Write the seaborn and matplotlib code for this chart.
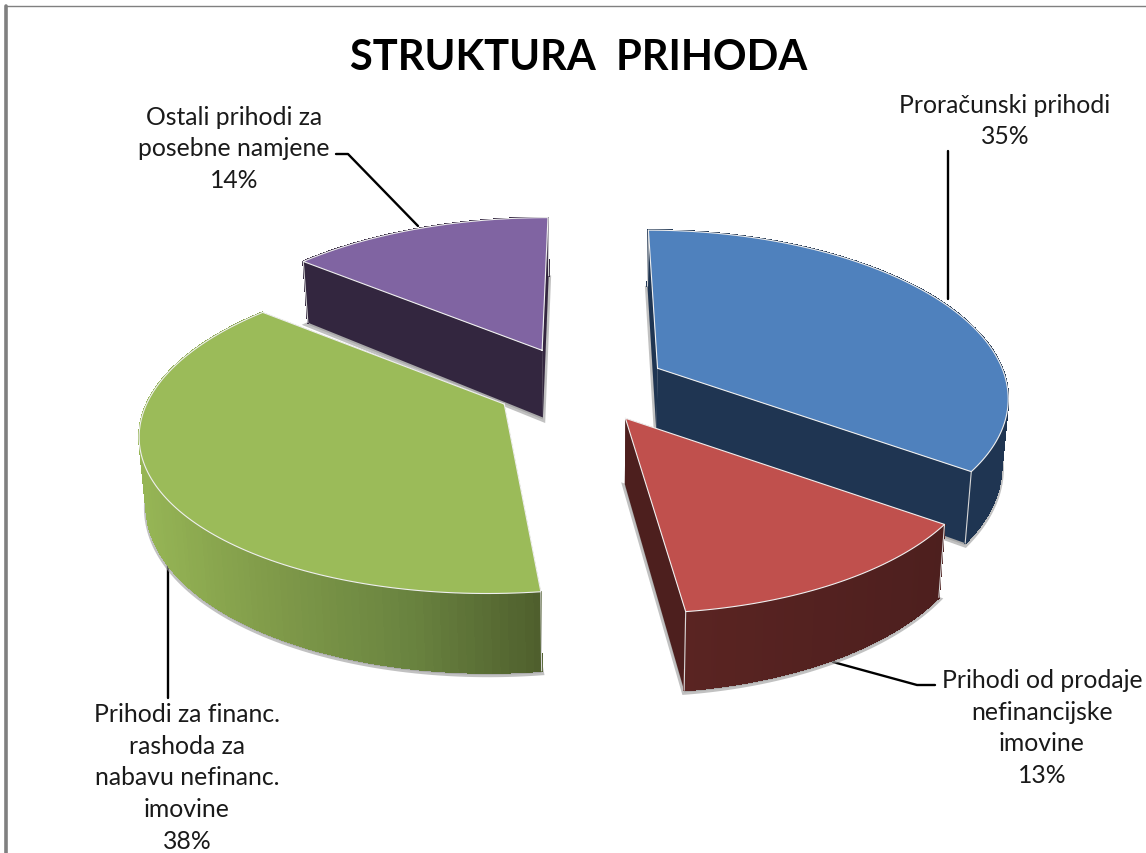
import numpy as np
import matplotlib
matplotlib.use('Agg')
import matplotlib.pyplot as plt
import seaborn as sns

# shares, clockwise from the top
LABELS = ['Proračunski prihodi', 'Prihodi od prodaje\nnefinancijske\nimovine',
          'Prihodi za financ.\nrashoda za\nnabavu nefinanc.\nimovine', 'Ostali prihodi za\nposebne namjene']
VALUES = [35, 13, 38, 14]
EXPLODE = [0.22, 0.22, 0.28, 0.30]
TOP_COLORS = ['#4f81bd', '#c0504d', '#9bbb59', '#8064a2']
WALL_COLORS = [['#1f3552', '#1f3552'], ['#5a2422', '#4d1f1e'],
               ['#96b555', '#7f9a49', '#6a8440', '#4f5f2d'], ['#33263f', '#33263f']]
CUT_COLORS = ['#1f3552', '#4d1f1e', '#4f5f2d', '#33263f']
DRAW_ORDER = [3, 0, 2, 1]
TITLE = 'STRUKTURA  PRIHODA'

# per slice tweaks of the projected block (px shift, scale about the apex, height)
SHIFT = [(0, 0), (-5, 3), (2, -2), (-5, 8)]
SCALE = [(1.0, 1.03), (0.975, 0.96), (1.0, 0.95), (1.03, 1.04)]
DEPTHS = [66, 64, 65, 70]

# label anchor (px), leader line (px)
LABEL_POS = [(1005, 121), (1042, 728), (187, 778), (234, 149)]
LEADERS = [([948, 948], [152, 300]), ([833, 917, 935], [663, 686, 686]),
           ([168, 168], [565, 699]), ([336, 348, 418], [155, 155, 227])]

CX, CY = 590, 385
RX, RY = 350, 160
K = 0.1587
LEAN = 0.016

sns.set_theme(style='white')
plt.rcParams['font.family'] = ['Lato', 'DejaVu Sans']

fig = plt.figure(figsize=(11.46, 8.54), dpi=100)
ax = fig.add_axes([0, 0, 1, 1])
ax.set_xlim(0, 1146)
ax.set_ylim(854, 0)
ax.axis('off')


def project(X, Y):
    w = 1 + K * Y
    return CX + RX * X / w, CY - RY * Y / w, 1 / w


shares = np.array(VALUES) / sum(VALUES)
starts = np.concatenate([[0], np.cumsum(shares)[:-1]]) * 2 * np.pi
ends = starts + shares * 2 * np.pi

for i in DRAW_ORDER:
    mid = (starts[i] + ends[i]) / 2
    ex, ey = EXPLODE[i] * np.sin(mid), EXPLODE[i] * np.cos(mid)
    th = np.linspace(starts[i], ends[i], 120)
    x, y, d = project(ex + np.sin(th), ey + np.cos(th))
    px, py, pd_ = project(ex, ey)
    x = px + (x - px) * SCALE[i][0] + SHIFT[i][0]
    y = py + (y - py) * SCALE[i][1] + SHIFT[i][1]
    px, py = px + SHIFT[i][0], py + SHIFT[i][1]
    d = d * DEPTHS[i]
    pd_ = pd_ * DEPTHS[i]
    top_x, top_y, top_d = np.r_[px, x], np.r_[py, y], np.r_[pd_, d]
    # verticals lean slightly towards the middle of the pie
    low_x = top_x - (top_x - CX) * LEAN
    low_y = top_y + top_d
    wx, wy = low_x[1:], low_y[1:]

    # soft shadow of the underside only
    ax.fill(low_x, low_y + 2, color='0.6', ec='0.6', lw=3.5, alpha=0.6, zorder=1 + i * 0.01)

    z = 2 + DRAW_ORDER.index(i)
    wall = sns.blend_palette(WALL_COLORS[i], 119)
    for j in (1, len(top_x) - 1):
        ax.fill([top_x[0], top_x[j], low_x[j], low_x[0]], [top_y[0], top_y[j], low_y[j], low_y[0]],
                color=CUT_COLORS[i], lw=0, zorder=z)
    lo, hi = x.min(), x.max()
    for j in range(len(x) - 1):
        # wall shade runs left to right across the slice
        c = wall[int((x[j] - lo) / max(hi - lo, 1) * 118)]
        ax.fill([x[j], x[j + 1], wx[j + 1], wx[j]], [y[j], y[j + 1], wy[j + 1], wy[j]],
                fc=c, ec=c, lw=0.8, antialiased=False, zorder=z)
    for j in (1, len(top_x) - 1):
        ax.plot([top_x[j], low_x[j]], [top_y[j], low_y[j]], color='#d8d8d8', lw=0.8, zorder=z + 0.05)
    ax.fill(top_x, top_y, color=TOP_COLORS[i], lw=0, zorder=z + 0.1)
    ax.plot(np.r_[top_x, top_x[0]], np.r_[top_y, top_y[0]], color='#f0f0f0', lw=0.8, zorder=z + 0.2)

# frame of the pasted chart
ax.plot([6, 6], [7, 854], color='#808080', lw=2.6, zorder=20)
ax.plot([6, 1146], [7, 7], color='#808080', lw=1, zorder=20)

for lx, ly in LEADERS:
    sns.lineplot(x=lx, y=ly, sort=False, estimator=None, color='black', lw=1.7, ax=ax, zorder=1)

ax.text(579, 58, TITLE, ha='center', va='center', fontsize=30, fontweight='bold', color='black', zorder=30)
for lab, v, (lx, ly) in zip(LABELS, VALUES, LABEL_POS):
    ax.text(lx, ly, f'{lab}\n{v}%', ha='center', va='center', fontsize=17.8, color='#1a1a1a',
            linespacing=1.47, zorder=30)

fig.savefig('out.png', dpi=100)
